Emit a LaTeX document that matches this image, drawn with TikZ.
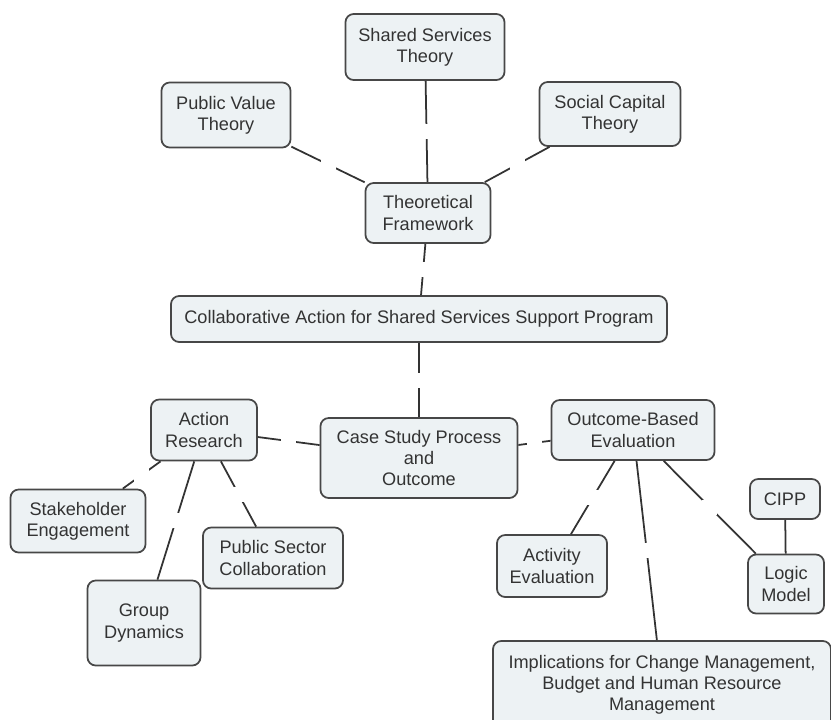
\documentclass[tikz,border=0pt]{standalone}
\usepackage{fontspec}
\setmainfont{Liberation Sans}
\usepackage{tikz}
\usetikzlibrary{positioning}
\definecolor{boxfill}{HTML}{EDF2F4}
\definecolor{boxline}{HTML}{474747}
\definecolor{inkgray}{HTML}{333333}
\tikzset{
  concept/.style={draw=boxline,line width=1.5pt,rounded corners=7pt,fill=boxfill,align=center,
    inner sep=2pt,text=inkgray,font=\fontsize{15.5}{18}\selectfont},
  link/.style={draw=inkgray,line width=1.5pt},
  gap/.style={fill=white,inner sep=0pt,minimum size=4.5mm},
}
\begin{document}
\begin{tikzpicture}[x=0.03cm,y=-0.03cm]
  \clip (0,0) rectangle (831,719);
  \fill[white] (0,0) rectangle (831,719);
  % theory layer
  \node[concept,minimum width=4.77cm,minimum height=1.98cm] (sst) at (425,47) {Shared Services\\Theory};
  \node[concept,minimum width=3.87cm,minimum height=1.95cm] (pvt) at (226,115) {Public Value\\Theory};
  \node[concept,minimum width=4.23cm,minimum height=1.92cm] (sct) at (610,114) {Social Capital\\Theory};
  \node[concept,minimum width=3.75cm,minimum height=1.8cm] (tf) at (428,213) {Theoretical\\Framework};
  \node[concept,minimum width=14.88cm,minimum height=1.38cm] (casp) at (419,319) {Collaborative Action for Shared Services Support Program};
  % case study layer
  \node[concept,minimum width=3.18cm,minimum height=1.83cm] (ar) at (204,430) {Action\\Research};
  \node[concept,minimum width=5.91cm,minimum height=2.4cm] (cs) at (419,458) {Case Study Process\\and\\Outcome};
  \node[concept,minimum width=4.89cm,minimum height=1.8cm] (obe) at (633,430) {Outcome-Based\\Evaluation};
  % action research side
  \node[concept,minimum width=4.05cm,minimum height=1.89cm] (se) at (78,521) {Stakeholder\\Engagement};
  \node[concept,minimum width=4.2cm,minimum height=1.83cm] (psc) at (273,558) {Public Sector\\Collaboration};
  \node[concept,minimum width=3.39cm,minimum height=2.55cm] (gd) at (144,623) {Group\\Dynamics};
  % evaluation side
  \node[concept,minimum width=3.3cm,minimum height=1.86cm] (ae) at (552,566) {Activity\\Evaluation};
  \node[concept,minimum width=2.1cm,minimum height=1.2cm] (cipp) at (785,499) {CIPP};
  \node[concept,minimum width=2.28cm,minimum height=1.77cm] (lm) at (786,584) {Logic\\Model};
  \node[concept,minimum width=10.14cm,minimum height=2.64cm] (imp) at (662,685) {Implications for Change Management,\\Budget and Human Resource\\Management};

  \path[link] (sst) -- node[gap]{} (tf);
  \path[link] (pvt) -- node[gap]{} (tf);
  \path[link] (sct) -- node[gap]{} (tf);
  \path[link] (tf) -- node[gap]{} (casp);
  \path[link] (casp) -- node[gap]{} (cs);
  \path[link] (ar) -- node[gap]{} (cs);
  \path[link] (cs) -- node[gap]{} (obe);
  \path[link] (ar) -- node[gap]{} (se);
  \path[link] (ar) -- node[gap]{} (gd);
  \path[link] (ar) -- node[gap]{} (psc);
  \path[link] (obe) -- node[gap]{} (ae);
  \path[link] (obe) -- node[gap]{} (imp);
  \path[link] (obe) -- node[gap]{} (lm);
  \path[link] (cipp) -- (lm);
\end{tikzpicture}
\end{document}
